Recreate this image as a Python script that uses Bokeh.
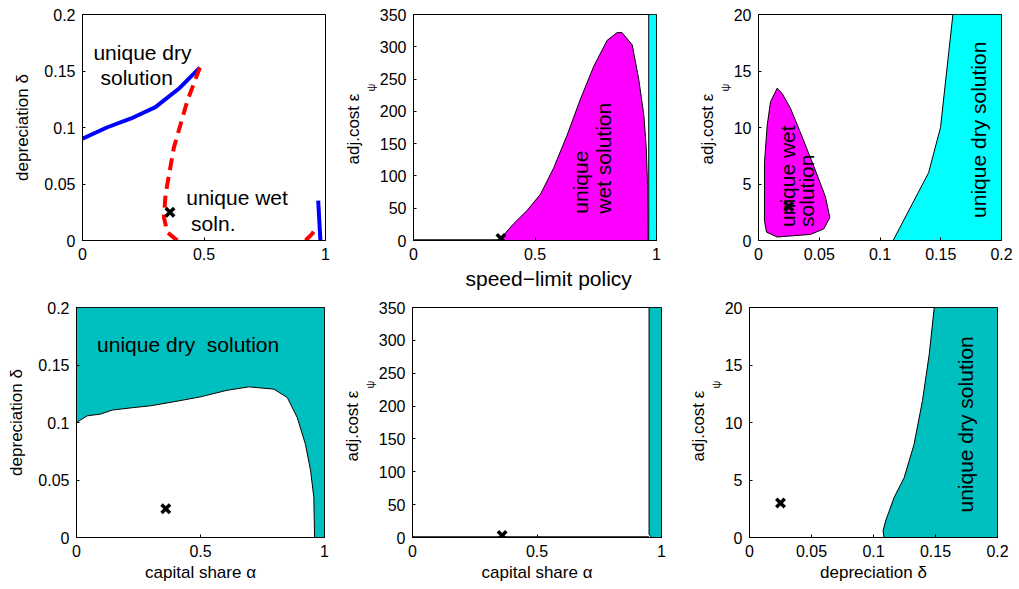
from math import pi
from bokeh.plotting import figure
from bokeh.layouts import column, row
from bokeh.models import Label, FixedTicker, Range1d, Title
from bokeh.embed import file_html
from bokeh.resources import INLINE

FONT = "Liberation Sans"
MAGENTA = "#FF00FF"
CYAN = "#00FFFF"
TEAL = "#00BFBF"

# ---------------- data ----------------
# calibration point (capital share alpha, depreciation delta, adj.cost eps)
cal_alpha = [0.36]
cal_delta = [0.025]
cal_eps = [3]

# Panel 1: boundaries in (alpha, delta)
p1_dry_x = [0.0, 0.1, 0.2, 0.3, 0.4, 0.483]
p1_dry_y = [0.09, 0.1, 0.108, 0.118, 0.135, 0.153]
p1_wet_x = [0.483, 0.431, 0.376, 0.342, 0.335, 0.349, 0.39]
p1_wet_y = [0.153, 0.1233, 0.0822, 0.0411, 0.0205, 0.0073, 0.0]
p1_wet2_x = [0.918, 0.945, 0.963]
p1_wet2_y = [0.0, 0.0059, 0.0117]
p1_dry2_x = [0.970, 0.979]
p1_dry2_y = [0.0352, 0.0]

# Panel 2: speed-limit policy, (alpha, eps)
p2_wet_x = [0.351, 0.413, 0.468, 0.523, 0.577, 0.632, 0.687, 0.742, 0.797,
            0.838, 0.858, 0.9, 0.927, 0.948, 0.958, 0.963, 0.965]
p2_wet_y = [0, 26.3, 46.7, 72, 112.6, 163, 219, 270, 310,
            322, 322, 303, 249.6, 193.7, 143, 87, 0]
p2_zero_x = [0.0, 0.355]
p2_zero_y = [0, 0]
p2_dry_x = [0.968, 0.968, 1.0, 1.0]
p2_dry_y = [0, 350, 350, 0]

# Panel 3: (delta, eps)
p3_wet_x = [0.0154, 0.0195, 0.0263, 0.036, 0.0455, 0.0551, 0.0587, 0.0538,
            0.0428, 0.0154, 0.0066, 0.0049, 0.0049, 0.0071, 0.0099]
p3_wet_y = [13.48, 13.0, 11.7, 9.15, 6.58, 3.87, 2.03, 1.03,
            0.54, 0.31, 0.74, 1.74, 6.87, 10.14, 12.28]
p3_dry_x = [0.1108, 0.140, 0.1498, 0.160, 0.2, 0.2]
p3_dry_y = [0.0, 6.0, 10.0, 20.0, 20.0, 0.0]

# Panel 4: (alpha, delta)
p4_dry_x = [0.0, 0.0, 0.043, 0.097, 0.144, 0.231, 0.298, 0.392, 0.5, 0.607,
            0.695, 0.796, 0.85, 0.89, 0.923, 0.944, 0.957, 0.96, 1.0, 1.0]
p4_dry_y = [0.2, 0.1, 0.1058, 0.1073, 0.1108, 0.113, 0.1145, 0.118, 0.1223, 0.128,
            0.131, 0.129, 0.1217, 0.1043, 0.0812, 0.058, 0.0348, 0.0, 0.0, 0.2]

# Panel 5: (alpha, eps)
p5_dry_x = [0.95, 0.95, 0.96, 1.0, 1.0]
p5_dry_y = [350, 5, 0, 0, 350]
p5_zero_x = [0.0, 0.95]
p5_zero_y = [0, 0]

# Panel 6: (delta, eps)
p6_dry_x = [0.1085, 0.1077, 0.1098, 0.1166, 0.1247, 0.1327, 0.1395, 0.1449, 0.149, 0.2, 0.2]
p6_dry_y = [0.0, 0.58, 1.45, 3.48, 5.2, 8.1, 11.9, 15.9, 20.0, 20.0, 0.0]

# ticks
t_unit = [0, 0.5, 1]
t_unit_lbl = ["0", "0.5", "1"]
t_delta = [0, 0.05, 0.1, 0.15, 0.2]
t_delta_lbl = ["0", "0.05", "0.1", "0.15", "0.2"]
t_eps350 = [0, 50, 100, 150, 200, 250, 300, 350]
t_eps350_lbl = ["0", "50", "100", "150", "200", "250", "300", "350"]
t_eps20 = [0, 5, 10, 15, 20]
t_eps20_lbl = ["0", "5", "10", "15", "20"]


def style_axis(ax, ticks, labels):
    ax.ticker = FixedTicker(ticks=ticks)
    ax.major_label_overrides = {t: l for t, l in zip(ticks, labels)}
    ax.major_tick_in = 3
    ax.major_tick_out = 0
    ax.minor_tick_line_color = None
    ax.axis_line_color = "black"
    ax.major_tick_line_color = "black"
    ax.major_label_text_font = FONT
    ax.major_label_text_color = "black"
    ax.major_label_standoff = 7
    ax.major_label_text_font_size = "16px"
    ax.axis_label_text_font = FONT
    ax.axis_label_text_font_style = "normal"
    ax.axis_label_text_font_size = "17px"
    ax.axis_label_text_color = "black"
    ax.axis_label_standoff = 3


def make_fig(w, h, bl, br, bt, bb, xr, yr, xt, xl, yt, yl):
    p = figure(width=w, height=h, x_range=Range1d(*xr), y_range=Range1d(*yr),
               output_backend="svg", toolbar_location=None,
               min_border_left=bl, min_border_right=br,
               min_border_top=bt, min_border_bottom=bb)
    p.grid.visible = False
    p.outline_line_color = "black"
    p.outline_line_width = 1
    p.outline_line_alpha = 1
    p.background_fill_color = "white"
    p.border_fill_color = "white"
    style_axis(p.xaxis[0], xt, xl)
    style_axis(p.yaxis[0], yt, yl)
    p.yaxis[0].axis_label_standoff = 9
    return p


def adj_cost_label(p):
    # subscript first (closest to the axis), main text outside it
    p.add_layout(Title(text="ψ", align="left", offset=149, standoff=0,
                       text_font=FONT, text_font_size="11px",
                       text_font_style="normal", text_color="black"), "left")
    p.add_layout(Title(text="adj.cost ε", align="left", offset=76, standoff=0,
                       text_font=FONT, text_font_size="17px",
                       text_font_style="normal", text_color="black"), "left")


def note(p, x, y, txt, rot=False, size="21px", align="left"):
    p.add_layout(Label(x=x, y=y, text=txt, angle=pi / 2 if rot else 0,
                       text_align=align, text_baseline="middle", text_font=FONT,
                       text_font_size=size, text_color="black"))


def cal_marker(p, xs, ys):
    p.scatter(xs, ys, marker="x", size=12, line_width=3.5, line_color="black")


# ---------- Panel 1 ----------
f1 = make_fig(340, 298, 82, 15, 13, 58, (0, 1), (0, 0.2), t_unit, t_unit_lbl, t_delta, t_delta_lbl)
f1.line(p1_dry_x, p1_dry_y, line_color="blue", line_width=4)
f1.line(p1_wet_x, p1_wet_y, line_color="red", line_width=4, line_dash="12 7")
f1.line(p1_wet2_x, p1_wet2_y, line_color="red", line_width=4, line_dash="12 7")
f1.line(p1_dry2_x, p1_dry2_y, line_color="blue", line_width=4)
cal_marker(f1, cal_alpha, cal_delta)
note(f1, 0.045, 0.166, "unique dry")
note(f1, 0.074, 0.1445, "solution")
note(f1, 0.427, 0.038, "unique wet")
note(f1, 0.447, 0.0152, "soln.")
f1.yaxis[0].axis_label = "depreciation δ"

# ---------- Panel 2 ----------
f2 = make_fig(340, 298, 73, 24, 14, 54, (0, 1), (0, 350), t_unit, t_unit_lbl, t_eps350, t_eps350_lbl)
f2.patch(p2_wet_x, p2_wet_y, fill_color=MAGENTA, line_color="black", line_width=1)
f2.patch(p2_dry_x, p2_dry_y, fill_color=CYAN, line_color="black", line_width=1)
f2.line(p2_zero_x, p2_zero_y, line_color="black", line_width=2.5)
cal_marker(f2, cal_alpha, cal_eps)
note(f2, 0.687, 41.5, "unique", rot=True)
note(f2, 0.783, 41.5, "wet solution", rot=True)
adj_cost_label(f2)
f2.add_layout(Title(text="speed\u2212limit policy", align="left", offset=52, standoff=5,
                    text_font=FONT, text_font_size="21px", text_font_style="normal",
                    text_color="black"), "below")

# ---------- Panel 3 ----------
f3 = make_fig(339, 298, 78, 18, 13, 51, (0, 0.2), (0, 20), t_delta, t_delta_lbl, t_eps20, t_eps20_lbl)
f3.patch(p3_wet_x, p3_wet_y, fill_color=MAGENTA, line_color="black", line_width=1)
f3.patch(p3_dry_x, p3_dry_y, fill_color=CYAN, line_color="black", line_width=1)
cal_marker(f3, cal_delta, cal_eps)
note(f3, 0.0236, 1.2, "unique wet", rot=True)
note(f3, 0.0395, 1.2, "solution", rot=True)
note(f3, 0.1813, 2.0, "unique dry solution", rot=True)
adj_cost_label(f3)

# ---------- Panel 4 ----------
f4 = make_fig(340, 291, 76, 16, 9, 52, (0, 1), (0, 0.2), t_unit, t_unit_lbl, t_delta, t_delta_lbl)
f4.patch(p4_dry_x, p4_dry_y, fill_color=TEAL, line_color="black", line_width=1)
cal_marker(f4, cal_alpha, cal_delta)
note(f4, 0.083, 0.168, "unique dry\u00a0\u00a0solution")
f4.yaxis[0].axis_label = "depreciation δ"
f4.xaxis[0].axis_label = "capital share α"

# ---------- Panel 5 ----------
f5 = make_fig(340, 291, 72, 19, 9, 52, (0, 1), (0, 350), t_unit, t_unit_lbl, t_eps350, t_eps350_lbl)
f5.patch(p5_dry_x, p5_dry_y, fill_color=TEAL, line_color="black", line_width=1)
f5.line(p5_zero_x, p5_zero_y, line_color="black", line_width=2.5)
cal_marker(f5, cal_alpha, cal_eps)
adj_cost_label(f5)
f5.xaxis[0].axis_label = "capital share α"

# ---------- Panel 6 ----------
f6 = make_fig(339, 291, 69, 22, 9, 52, (0, 0.2), (0, 20), t_delta, t_delta_lbl, t_eps20, t_eps20_lbl)
f6.patch(p6_dry_x, p6_dry_y, fill_color=TEAL, line_color="black", line_width=1)
cal_marker(f6, cal_delta, cal_eps)
note(f6, 0.1745, 2.17, "unique dry solution", rot=True)
adj_cost_label(f6)
f6.xaxis[0].axis_label = "depreciation δ"

layout = column(row(f1, f2, f3), row(f4, f5, f6))
open("out.html", "w").write(file_html(layout, INLINE))
